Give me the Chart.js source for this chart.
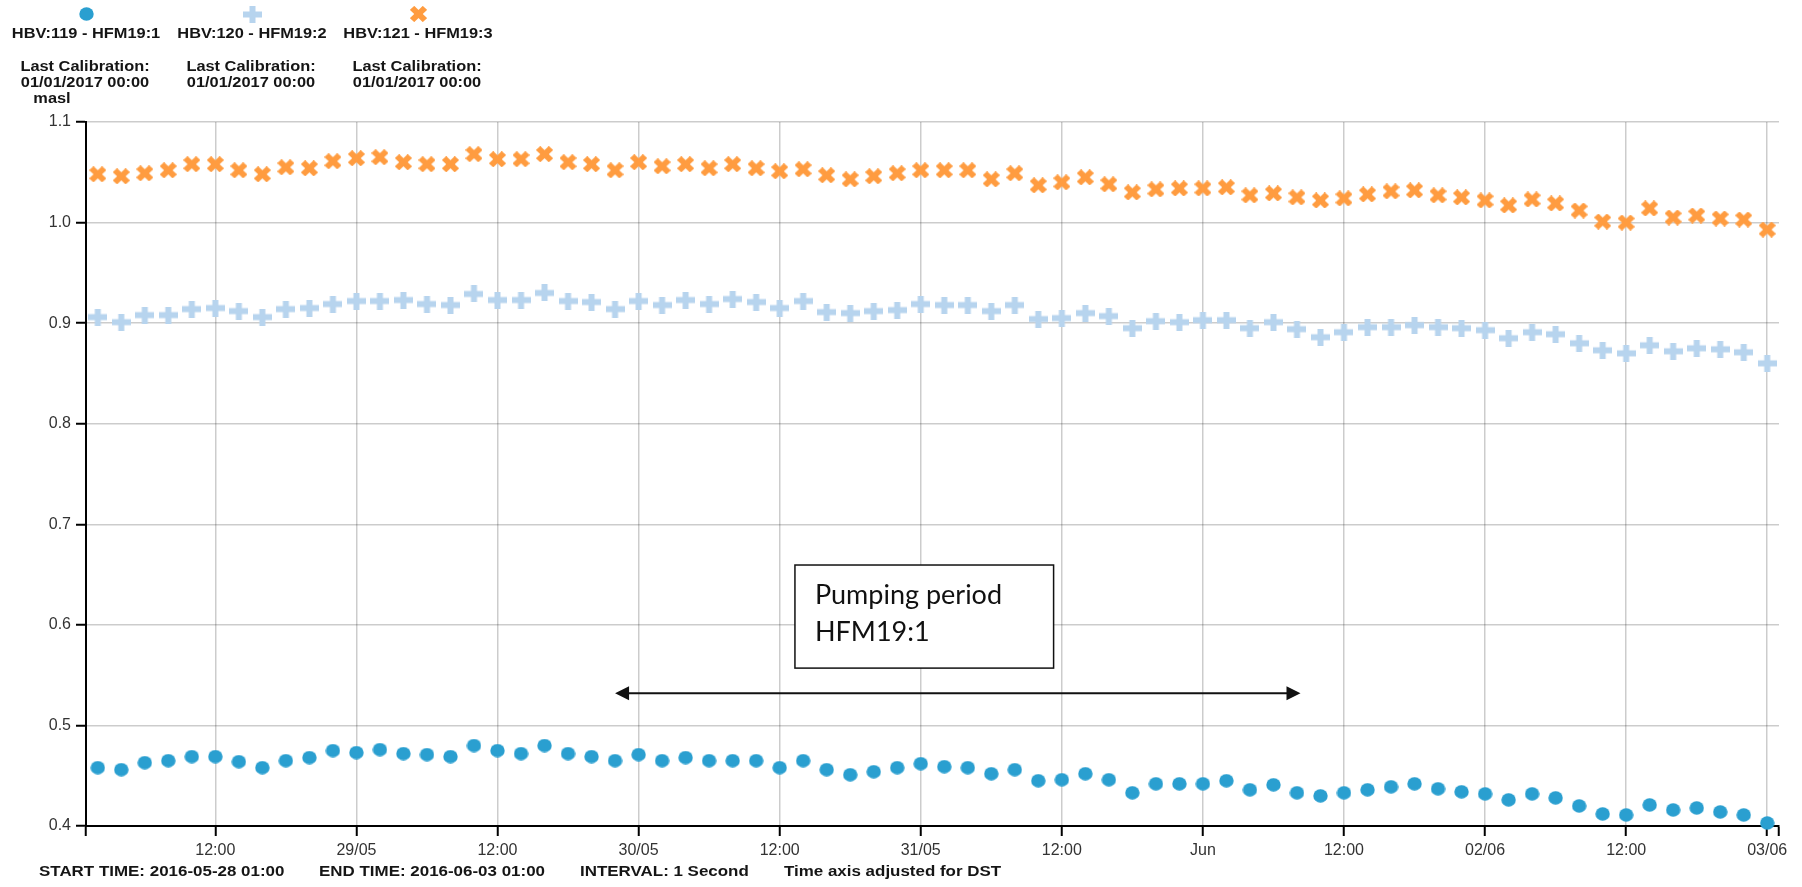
<!DOCTYPE html>
<html>
<head>
<meta charset="utf-8">
<script src="https://cdn.jsdelivr.net/npm/chart.js@4.4.1/dist/chart.umd.min.js"></script>
<style>
  html, body { margin: 0; padding: 0; background: #ffffff; }
  #wrap { width: 1802px; height: 887px; position: relative; }
</style>
</head>
<body>
<div id="wrap"><canvas id="chart" width="1802" height="887"></canvas></div>
<script>
// Hours since START TIME (2016-05-28 01:00), one reading every two hours
const sampleHours = [
  1, 3, 5, 7, 9, 11, 13, 15, 17, 19, 21, 23,
  25, 27, 29, 31, 33, 35, 37, 39, 41, 43, 45, 47,
  49, 51, 53, 55, 57, 59, 61, 63, 65, 67, 69, 71,
  73, 75, 77, 79, 81, 83, 85, 87, 89, 91, 93, 95,
  97, 99, 101, 103, 105, 107, 109, 111, 113, 115, 117, 119,
  121, 123, 125, 127, 129, 131, 133, 135, 137, 139, 141, 143
];

// Water level (masl) per borehole section
const hfm19_1 = [
  0.458, 0.456, 0.463, 0.465, 0.469, 0.469, 0.464, 0.458, 0.465, 0.468, 0.475, 0.473,
  0.476, 0.472, 0.471, 0.469, 0.480, 0.475, 0.472, 0.480, 0.472, 0.469, 0.465, 0.471,
  0.465, 0.468, 0.465, 0.465, 0.465, 0.458, 0.465, 0.456, 0.451, 0.454, 0.458, 0.462,
  0.459, 0.458, 0.452, 0.456, 0.445, 0.446, 0.452, 0.446, 0.433, 0.442, 0.442, 0.442,
  0.445, 0.436, 0.441, 0.433, 0.430, 0.433, 0.436, 0.439, 0.442, 0.437, 0.434, 0.432,
  0.426, 0.432, 0.428, 0.420, 0.412, 0.411, 0.421, 0.416, 0.418, 0.414, 0.411, 0.403
];
const hfm19_2 = [
  0.906, 0.901, 0.908, 0.908, 0.914, 0.915, 0.912, 0.906, 0.914, 0.915, 0.919, 0.922,
  0.922, 0.923, 0.919, 0.918, 0.929, 0.923, 0.923, 0.930, 0.922, 0.921, 0.914, 0.922,
  0.918, 0.923, 0.919, 0.924, 0.921, 0.915, 0.922, 0.911, 0.910, 0.912, 0.913, 0.919,
  0.918, 0.918, 0.912, 0.918, 0.904, 0.905, 0.910, 0.907, 0.895, 0.902, 0.901, 0.903,
  0.903, 0.895, 0.901, 0.894, 0.886, 0.891, 0.896, 0.896, 0.898, 0.896, 0.895, 0.893,
  0.885, 0.891, 0.889, 0.880, 0.873, 0.870, 0.878, 0.872, 0.875, 0.874, 0.871, 0.860
];
const hfm19_3 = [
  1.048, 1.046, 1.049, 1.052, 1.058, 1.058, 1.052, 1.048, 1.055, 1.054, 1.061, 1.064,
  1.065, 1.060, 1.058, 1.058, 1.068, 1.063, 1.063, 1.068, 1.060, 1.058, 1.052, 1.060,
  1.056, 1.058, 1.054, 1.058, 1.054, 1.051, 1.053, 1.047, 1.043, 1.046, 1.049, 1.052,
  1.052, 1.052, 1.043, 1.049, 1.037, 1.040, 1.045, 1.038, 1.030, 1.033, 1.034, 1.034,
  1.035, 1.027, 1.029, 1.025, 1.022, 1.024, 1.028, 1.031, 1.032, 1.027, 1.025, 1.022,
  1.017, 1.023, 1.019, 1.012, 1.001, 1.000, 1.014, 1.005, 1.007, 1.004, 1.003, 0.993
];

const seriesNames = ['HBV:119 - HFM19:1', 'HBV:120 - HFM19:2', 'HBV:121 - HFM19:3'];
const calibrationLines = ['Last Calibration:', '01/01/2017 00:00'];

// Time axis ticks (hours since start) and their labels
const xTickHours = [0, 11, 23, 35, 47, 59, 71, 83, 95, 107, 119, 131, 143, 144];
const xTickLabels = ['', '12:00', '29/05', '12:00', '30/05', '12:00', '31/05', '12:00', 'Jun', '12:00', '02/06', '12:00', '03/06', ''];
const yTicks = [0.4, 0.5, 0.6, 0.7, 0.8, 0.9, 1.0, 1.1];

const footerItems = ['START TIME: 2016-05-28 01:00', 'END TIME: 2016-06-03 01:00', 'INTERVAL: 1 Second', 'Time axis adjusted for DST'];

// Annotation for the pumping period, in axis units (hours, masl)
const pumpingNote = {
  lines: ['Pumping period', 'HFM19:1'],
  box: { x0: 60.3, x1: 82.3, yTop: 0.6595, yBottom: 0.557 },
  arrow: { x0: 45.0, x1: 103.3, y: 0.532 }
};

const COLORS = ['#2a9fd0', '#b7d4ee', '#ff9c40'];

// Marker sprites
function makeDot(w, h, color) {
  const c = document.createElement('canvas');
  c.width = w; c.height = h;
  const g = c.getContext('2d');
  g.fillStyle = color;
  g.beginPath();
  g.ellipse(w / 2, h / 2, w / 2 - 0.3, h / 2 - 0.3, 0, 0, Math.PI * 2);
  g.fill();
  return c;
}
function makePlus(w, h, arm, color) {
  const c = document.createElement('canvas');
  c.width = w; c.height = h;
  const g = c.getContext('2d');
  g.fillStyle = color;
  g.fillRect(0, (h - arm) / 2, w, arm);
  g.fillRect((w - arm) / 2, 0, arm, h);
  return c;
}
function makeCrossX(w, h, len, arm, color) {
  const c = document.createElement('canvas');
  c.width = w; c.height = h;
  const g = c.getContext('2d');
  g.fillStyle = color;
  g.translate(w / 2, h / 2);
  g.scale(w / h, 1);
  g.rotate(Math.PI / 4);
  g.fillRect(-len, -arm / 2, len * 2, arm);
  g.fillRect(-arm / 2, -len, arm, len * 2);
  return c;
}
const markers = [
  makeDot(15, 14, COLORS[0]),
  makePlus(19, 17, 6, COLORS[1]),
  makeCrossX(17, 16, 8.6, 5.8, COLORS[2])
];

function toPoints(values) {
  return values.map((v, i) => ({ x: sampleHours[i], y: v }));
}

const BOLD = "bold 14px 'Liberation Sans', Arial, sans-serif";

// Bold label text, widened horizontally
function wideText(ctx, text, x, y, align, stretch) {
  ctx.save();
  ctx.font = BOLD;
  ctx.textBaseline = 'middle';
  ctx.textAlign = 'left';
  const w = ctx.measureText(text).width * stretch;
  const left = align === 'center' ? x - w / 2 : x;
  ctx.translate(left, y);
  ctx.scale(stretch, 1);
  ctx.fillStyle = '#151515';
  ctx.fillText(text, 0, 0);
  ctx.restore();
}

const decorations = {
  id: 'decorations',
  afterDraw(chart) {
    const ctx = chart.ctx;
    const xs = chart.scales.x, ys = chart.scales.y;

    // Legend header
    const colX = [86, 252, 418];
    colX.forEach((cx, i) => {
      const m = markers[i];
      ctx.drawImage(m, Math.round(cx - m.width / 2), Math.round(14 - m.height / 2));
      wideText(ctx, seriesNames[i], cx, 34, 'center', 1.17);
      wideText(ctx, calibrationLines[0], cx - 1, 67, 'center', 1.17);
      wideText(ctx, calibrationLines[1], cx - 1, 83, 'center', 1.17);
    });
    wideText(ctx, 'masl', 52, 99, 'center', 1.17);

    // Footer
    const footX = [39, 319, 580, 784];
    footerItems.forEach((t, i) => wideText(ctx, t, footX[i], 872, 'left', 1.21));

    // Pumping period annotation
    const bx0 = xs.getPixelForValue(pumpingNote.box.x0);
    const bx1 = xs.getPixelForValue(pumpingNote.box.x1);
    const by0 = ys.getPixelForValue(pumpingNote.box.yTop);
    const by1 = ys.getPixelForValue(pumpingNote.box.yBottom);
    ctx.save();
    ctx.fillStyle = '#ffffff';
    ctx.fillRect(bx0, by0, bx1 - bx0, by1 - by0);
    ctx.strokeStyle = '#111111';
    ctx.lineWidth = 1.5;
    ctx.strokeRect(bx0, by0, bx1 - bx0, by1 - by0);
    ctx.fillStyle = '#111111';
    ctx.font = "27px Lato, 'Open Sans', sans-serif";
    ctx.textBaseline = 'alphabetic';
    ctx.textAlign = 'left';
    ctx.fillText(pumpingNote.lines[0], bx0 + 20, by0 + 39);
    ctx.fillText(pumpingNote.lines[1], bx0 + 20, by0 + 76);

    const ax0 = xs.getPixelForValue(pumpingNote.arrow.x0);
    const ax1 = xs.getPixelForValue(pumpingNote.arrow.x1);
    const ay = ys.getPixelForValue(pumpingNote.arrow.y);
    const head = 14, half = 7;
    ctx.strokeStyle = '#111111';
    ctx.lineWidth = 2;
    ctx.beginPath();
    ctx.moveTo(ax0 + head - 2, ay);
    ctx.lineTo(ax1 - head + 2, ay);
    ctx.stroke();
    ctx.beginPath();
    ctx.moveTo(ax0, ay); ctx.lineTo(ax0 + head, ay - half); ctx.lineTo(ax0 + head, ay + half); ctx.closePath();
    ctx.fill();
    ctx.beginPath();
    ctx.moveTo(ax1, ay); ctx.lineTo(ax1 - head, ay - half); ctx.lineTo(ax1 - head, ay + half); ctx.closePath();
    ctx.fill();
    ctx.restore();
  }
};

const GRID = 'rgba(0,0,0,0.2)';
const TICK_FONT = { family: "'Liberation Sans', Arial, sans-serif", size: 16 };

new Chart(document.getElementById('chart'), {
  type: 'scatter',
  data: {
    datasets: [hfm19_1, hfm19_2, hfm19_3].map((vals, i) => ({
      label: seriesNames[i],
      data: toPoints(vals),
      pointStyle: markers[i],
      showLine: false,
      clip: false
    }))
  },
  options: {
    responsive: false,
    devicePixelRatio: 1,
    animation: false,
    events: [],
    layout: { padding: { top: 122, right: 23, bottom: 0, left: 0 } },
    plugins: { legend: { display: false }, tooltip: { enabled: false } },
    scales: {
      x: {
        type: 'linear',
        min: 0,
        max: 144,
        afterFit(s) { s.height = 61; },
        afterBuildTicks(s) { s.ticks = xTickHours.map(v => ({ value: v })); },
        border: { color: '#000000', width: 2 },
        grid: {
          color: ctx => (ctx.tick && (ctx.tick.value === 144 || ctx.tick.value === 0)) ? 'rgba(0,0,0,0)' : GRID,
          lineWidth: 1.5,
          tickColor: '#000000',
          tickLength: 10,
          tickWidth: 2
        },
        ticks: {
          autoSkip: false,
          maxRotation: 0,
          padding: 5,
          color: '#333333',
          font: TICK_FONT,
          callback: (v, i) => xTickLabels[i]
        }
      },
      y: {
        type: 'linear',
        min: 0.4,
        max: 1.1,
        afterFit(s) { s.width = 86; },
        afterBuildTicks(s) { s.ticks = yTicks.map(v => ({ value: v })); },
        border: { color: '#000000', width: 2 },
        grid: {
          color: GRID,
          lineWidth: 1.5,
          tickColor: '#000000',
          tickLength: 10,
          tickWidth: 2
        },
        ticks: {
          padding: 5,
          color: '#333333',
          font: TICK_FONT,
          callback: v => Number(v).toFixed(1)
        }
      }
    }
  },
  plugins: [decorations]
});
</script>
</body>
</html>
